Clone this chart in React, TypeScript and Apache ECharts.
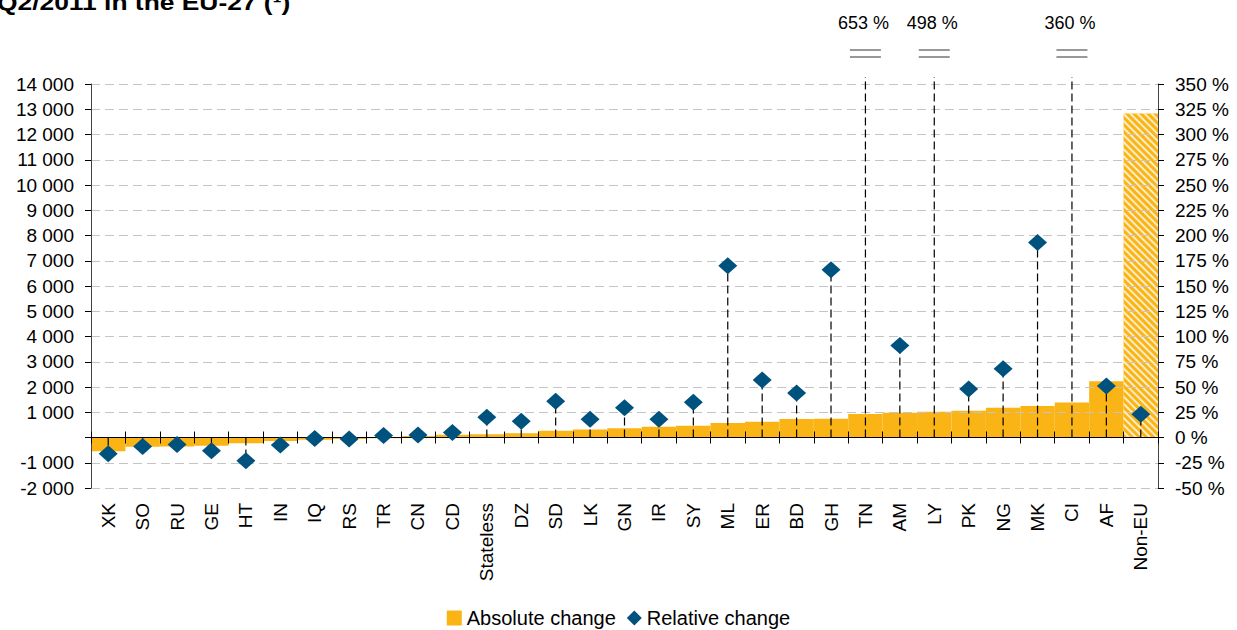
import React, { useEffect, useRef } from "react";
import * as echarts from "echarts";

const categories = ["XK", "SO", "RU", "GE", "HT", "IN", "IQ", "RS", "TR", "CN", "CD", "Stateless", "DZ", "SD", "LK", "GN", "IR", "SY", "ML", "ER", "BD", "GH", "TN", "AM", "LY", "PK", "NG", "MK", "CI", "AF", "Non-EU"];

const absoluteChange = [-540, -370, -360, -330, -230, -140, -90, -60, -30, 60, 110, 130, 170, 270, 320, 370, 430, 470, 570, 620, 730, 740, 930, 980, 1020, 1060, 1180, 1250, 1390, 2230, 12830];

const relativeChange = [-16, -9, -7, -13, -23, -7.5, -1, -1.5, 2, 2.5, 5, 20, 16, 36, 18, 29.5, 18, 35, 170, 57, 44, 166, 653, 91, 498, 48, 68, 193, 360, 51, 23];

const leftTicks = { min: -2000, max: 14000, interval: 1000 };
const rightTicks = { min: -50, max: 350, interval: 25 };

const titleText = "Q2/2011 in the EU-27 (¹)";

const FONT = "'Liberation Sans', Arial, Helvetica, sans-serif";
const ORANGE = "#FAB416";
const BLUE = "#00527E";

function fmtThousands(v: number): string {
  if (v === 0) return "";
  const s = String(Math.abs(v)).replace(/\B(?=(\d{3})+(?!\d))/g, " ");
  return (v < 0 ? "-" : "") + s;
}

export default function App() {
  const ref = useRef<HTMLDivElement>(null);
  useEffect(() => {
    if (!ref.current) return;
    const chart = echarts.init(ref.current, null, { renderer: "svg" });
    const last = absoluteChange.length - 1;
    const option: any = {
      animation: false,
      backgroundColor: "#fff",
      textStyle: { fontFamily: FONT },
      graphic: [
        {
          type: "text",
          x: -3,
          y: 2,
          scaleX: 1.2,
          style: {
            text: titleText,
            fontSize: 22,
            fontWeight: "bold",
            fontFamily: FONT,
            fill: "#000",
            verticalAlign: "middle",
          },
        },
      ],
      grid: { left: 91, right: 79, top: 84, bottom: 142, containLabel: false },
      legend: {
        data: [
          { name: "Absolute change", icon: "rect" },
          { name: "Relative change", icon: "diamond" },
        ],
        left: "center",
        top: 603,
        itemWidth: 15,
        itemHeight: 15,
        itemGap: 11,
        textStyle: { fontSize: 20, color: "#000", fontFamily: FONT },
      },
      xAxis: [
        {
          type: "category",
          data: categories,
          position: "bottom",
          z: 4,
          axisLine: { show: true, onZero: true, onZeroAxisIndex: 0, lineStyle: { color: "#000", width: 1.2 } },
          axisTick: { show: true, interval: 0, alignWithLabel: false, length: 6, lineStyle: { color: "#000" } },
          axisLabel: { interval: 0, rotate: 90, margin: 15, fontSize: 19, color: "#000", fontFamily: FONT },
          splitLine: { show: false },
        },
        {
          type: "category",
          data: categories,
          position: "top",
          z: 4,
          axisLine: { show: true, onZero: true, onZeroAxisIndex: 0, lineStyle: { color: "#000", width: 1.2 } },
          axisTick: { show: true, interval: 0, alignWithLabel: false, length: 6, lineStyle: { color: "#000" } },
          axisLabel: { show: false },
          splitLine: { show: false },
        },
      ],
      yAxis: [
        {
          type: "value",
          position: "left",
          min: leftTicks.min,
          max: leftTicks.max,
          interval: leftTicks.interval,
          z: 3,
          axisLine: { show: true, lineStyle: { color: "#444" } },
          axisTick: { show: true, length: 6, lineStyle: { color: "#000" } },
          axisLabel: { formatter: (v: number) => fmtThousands(v), fontSize: 19, color: "#000", margin: 17, fontFamily: FONT },
          splitLine: { show: true, lineStyle: { color: "#c4c4c4", type: [9, 5], width: 1 } },
        },
        {
          type: "value",
          position: "right",
          min: rightTicks.min,
          max: rightTicks.max,
          interval: rightTicks.interval,
          z: 3,
          axisLine: { show: true, lineStyle: { color: "#444" } },
          axisTick: { show: true, length: 6, lineStyle: { color: "#000" } },
          axisLabel: { formatter: (v: number) => `${v} %`, fontSize: 19, color: "#000", margin: 17, fontFamily: FONT },
          splitLine: { show: false },
        },
      ],
      series: [
        {
          type: "bar",
          name: "Absolute change",
          xAxisIndex: 0,
          yAxisIndex: 0,
          barCategoryGap: "0%",
          barGap: "0%",
          z: 2,
          itemStyle: { color: ORANGE },
          data: absoluteChange.map((v, i) =>
            i === last
              ? {
                  value: v,
                  itemStyle: {
                    color: ORANGE,
                    decal: {
                      symbol: "rect",
                      symbolSize: 1,
                      color: "rgba(255,255,255,0.75)",
                      dashArrayX: [1, 0],
                      dashArrayY: [2, 3],
                      rotation: Math.PI / 4,
                    },
                  },
                }
              : v
          ),
        },
        {
          type: "custom",
          name: "droplines",
          xAxisIndex: 0,
          yAxisIndex: 1,
          z: 5,
          silent: true,
          clip: false,
          encode: { x: 0, y: 1 },
          data: relativeChange.map((v, i) => [i, v]),
          renderItem: (params: any, api: any) => {
            const i = api.value(0);
            const v = api.value(1);
            const top = params.coordSys.y;
            const p0 = api.coord([i, 0]);
            const x = p0[0];
            const y0 = p0[1];
            const off = v > rightTicks.max;
            const yEnd = off ? top - 7 : api.coord([i, v])[1];
            const children: any[] = [
              {
                type: "line",
                shape: { x1: x, y1: y0, x2: x, y2: yEnd },
                style: { stroke: "#000", lineWidth: 1.2, lineDash: [8, 4] },
              },
            ];
            if (off) {
              children.push(
                { type: "line", shape: { x1: x - 15.5, y1: top - 34, x2: x + 15.5, y2: top - 34 }, style: { stroke: "#333", lineWidth: 1 } },
                { type: "line", shape: { x1: x - 15.5, y1: top - 27, x2: x + 15.5, y2: top - 27 }, style: { stroke: "#333", lineWidth: 1 } },
                {
                  type: "text",
                  style: {
                    text: `${v} %`,
                    x: x - 2,
                    y: top - 61,
                    align: "center",
                    verticalAlign: "middle",
                    fontSize: 18,
                    fontFamily: FONT,
                    fill: "#000",
                  },
                }
              );
            }
            return { type: "group", children };
          },
        },
        {
          type: "scatter",
          name: "Relative change",
          xAxisIndex: 0,
          yAxisIndex: 1,
          symbol: "diamond",
          symbolSize: [19, 17],
          z: 6,
          itemStyle: { color: BLUE, opacity: 1 },
          data: relativeChange.map((v) => (v > rightTicks.max ? "-" : v)),
        },
      ],
    };
    chart.setOption(option);
    return () => chart.dispose();
  }, []);
  return <div ref={ref} style={{ position: "absolute", left: 0, top: 0, width: 1237, height: 630 }} />;
}
